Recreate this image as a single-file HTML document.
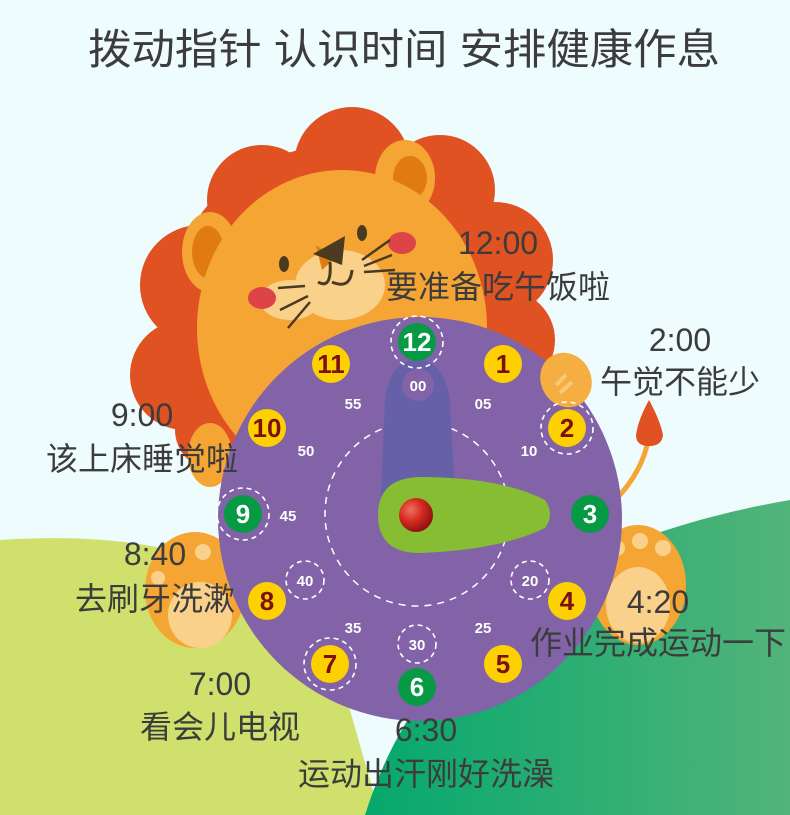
<!DOCTYPE html>
<html><head><meta charset="utf-8"><style>
html,body{margin:0;padding:0;background:#effcfd}
svg{display:block}
text{font-family:"Liberation Sans","Noto Sans CJK SC",sans-serif}
</style></head><body>
<svg width="790" height="815" viewBox="0 0 790 815" xmlns="http://www.w3.org/2000/svg">
<defs>
<linearGradient id="dg" x1="0" y1="0" x2="1" y2="0"><stop offset="0" stop-color="#05a86c"/><stop offset="1" stop-color="#52b47a"/></linearGradient>
<radialGradient id="rb" cx="0.35" cy="0.35" r="0.7"><stop offset="0" stop-color="#f07060"/><stop offset="0.5" stop-color="#d42a1e"/><stop offset="1" stop-color="#8a1010"/></radialGradient>
</defs>
<rect width="790" height="815" fill="#effcfd"/>
<path d="M0 540 C150 530 260 560 330 640 L380 815 L0 815Z" fill="#cfe06c"/>
<path d="M365 815 C420 640 560 540 790 500 L790 815Z" fill="url(#dg)"/>
<text x="404" y="64" font-size="42" fill="#3c3c3c" text-anchor="middle" textLength="632" lengthAdjust="spacingAndGlyphs">拨动指针 认识时间 安排健康作息</text>
<g fill="#e05222">
<circle cx="352" cy="165" r="58"/><circle cx="262" cy="200" r="55"/><circle cx="440" cy="190" r="55"/>
<circle cx="200" cy="285" r="60"/><circle cx="495" cy="260" r="58"/><circle cx="185" cy="375" r="55"/>
<circle cx="505" cy="340" r="50"/><circle cx="215" cy="430" r="40"/><circle cx="340" cy="320" r="175"/>
</g>
<ellipse cx="405" cy="178" rx="30" ry="38" fill="#f5a533"/><ellipse cx="410" cy="178" rx="17" ry="22" fill="#e07b12"/>
<ellipse cx="210" cy="252" rx="28" ry="40" fill="#f5a533"/><ellipse cx="208" cy="252" rx="16" ry="26" fill="#e07b12"/>
<ellipse cx="342" cy="328" rx="145" ry="158" fill="#f5a533"/>
<ellipse cx="340" cy="285" rx="45" ry="35" fill="#fad18b"/>
<ellipse cx="290" cy="300" rx="30" ry="20" fill="#fad18b"/>
<ellipse cx="262" cy="298" rx="14" ry="11" fill="#dd4447"/>
<ellipse cx="402" cy="243" rx="14" ry="11" fill="#dd4447"/>
<ellipse cx="284" cy="264" rx="5" ry="8" fill="#4a3a20"/>
<ellipse cx="362" cy="233" rx="5" ry="8" fill="#4a3a20"/>
<path d="M316 245 L335 258 L322 270Z" fill="#e07b12"/>
<path d="M313 254 L345 236 L342 265Z" fill="#4a3a20"/>
<path d="M330 262 Q332 290 318 282 M332 282 Q350 290 352 270" stroke="#4a3a20" stroke-width="3" fill="none"/>
<g stroke="#4a3a20" stroke-width="2.5"><line x1="278" y1="288" x2="305" y2="286"/><line x1="280" y1="310" x2="308" y2="296"/><line x1="288" y1="328" x2="310" y2="302"/><line x1="362" y1="260" x2="390" y2="240"/><line x1="364" y1="266" x2="392" y2="255"/><line x1="364" y1="272" x2="395" y2="270"/></g>
<path d="M615 500 Q645 470 650 430" stroke="#f5a533" stroke-width="5" fill="none"/>
<path d="M649 400 Q660 420 663 435 Q662 446 649 446 Q636 446 636 435 Q638 420 649 400Z" fill="#e05222"/>
<ellipse cx="210" cy="455" rx="22" ry="32" fill="#f5a533"/>
<ellipse cx="195" cy="590" rx="50" ry="58" fill="#f5a533"/>
<ellipse cx="200" cy="615" rx="32" ry="33" fill="#fad18b"/>
<circle cx="203" cy="552" r="8" fill="#fad18b"/><circle cx="158" cy="578" r="7" fill="#fad18b"/>
<ellipse cx="638" cy="585" rx="48" ry="60" fill="#f5a533"/>
<ellipse cx="638" cy="605" rx="32" ry="38" fill="#fad18b"/>
<circle cx="617" cy="548" r="8" fill="#fad18b"/><circle cx="640" cy="541" r="8" fill="#fad18b"/><circle cx="663" cy="548" r="8" fill="#fad18b"/>
<circle cx="420" cy="519" r="202" fill="#8363a7"/>
<ellipse cx="566" cy="380" rx="25" ry="28" fill="#f5ae42" transform="rotate(-30 566 380)"/>
<path d="M556 385 L566 375 M560 393 L572 382" stroke="#f9c878" stroke-width="4"/>
<circle cx="417" cy="514" r="92" fill="none" stroke="#fff" stroke-width="1.5" stroke-dasharray="7 6"/>
<path d="M380 515 L385 400 Q390 360 417 360 Q444 360 450 400 L456 515Z" fill="#6560a8"/>
<circle cx="418" cy="385" r="16" fill="#8363a7"/>
<path d="M378 515 Q378 478 420 477 Q500 477 545 500 Q555 515 545 528 Q500 550 420 553 Q378 553 378 515Z" fill="#86bd33"/>
<circle cx="416" cy="515" r="17" fill="url(#rb)"/>
<g font-size="15" font-weight="bold" fill="#fff" text-anchor="middle">
<text x="418" y="391">00</text><text x="483" y="409">05</text><text x="529" y="456">10</text><text x="530" y="586">20</text><text x="483" y="633">25</text><text x="417" y="650">30</text><text x="353" y="633">35</text><text x="305" y="586">40</text><text x="288" y="521">45</text><text x="306" y="456">50</text><text x="353" y="409">55</text>
</g>
<g fill="none" stroke="#fff" stroke-width="1.6" stroke-dasharray="5 4">
<circle cx="417" cy="342" r="26"/><circle cx="567" cy="428" r="26"/><circle cx="243" cy="514" r="26"/><circle cx="330" cy="664" r="26"/>
<circle cx="530" cy="580" r="19"/><circle cx="417" cy="644" r="19"/><circle cx="305" cy="580" r="19"/>
</g>
<g font-size="26" font-weight="bold" text-anchor="middle">
<circle cx="417" cy="342" r="19" fill="#069a44"/><text x="417" y="351" fill="#fff">12</text>
<circle cx="503" cy="364" r="19" fill="#fdd000"/><text x="503" y="373" fill="#7a1010">1</text>
<circle cx="567" cy="428" r="19" fill="#fdd000"/><text x="567" y="437" fill="#7a1010">2</text>
<circle cx="590" cy="514" r="19" fill="#069a44"/><text x="590" y="523" fill="#fff">3</text>
<circle cx="567" cy="601" r="19" fill="#fdd000"/><text x="567" y="610" fill="#7a1010">4</text>
<circle cx="503" cy="664" r="19" fill="#fdd000"/><text x="503" y="673" fill="#7a1010">5</text>
<circle cx="417" cy="687" r="19" fill="#069a44"/><text x="417" y="696" fill="#fff">6</text>
<circle cx="330" cy="664" r="19" fill="#fdd000"/><text x="330" y="673" fill="#7a1010">7</text>
<circle cx="267" cy="601" r="19" fill="#fdd000"/><text x="267" y="610" fill="#7a1010">8</text>
<circle cx="243" cy="514" r="19" fill="#069a44"/><text x="243" y="523" fill="#fff">9</text>
<circle cx="267" cy="428" r="19" fill="#fdd000"/><text x="267" y="437" fill="#7a1010">10</text>
<circle cx="331" cy="364" r="19" fill="#fdd000"/><text x="331" y="373" fill="#7a1010">11</text>
</g>
<g font-size="32" fill="#3c3c3c" text-anchor="middle">
<text x="498" y="254">12:00</text><text x="498" y="298">要准备吃午饭啦</text>
<text x="680" y="351">2:00</text><text x="680" y="393">午觉不能少</text>
<text x="142" y="426">9:00</text><text x="142" y="470">该上床睡觉啦</text>
<text x="155" y="565">8:40</text><text x="155" y="610">去刷牙洗漱</text>
<text x="658" y="613">4:20</text><text x="658" y="654">作业完成运动一下</text>
<text x="220" y="695">7:00</text><text x="220" y="738">看会儿电视</text>
<text x="426" y="741">6:30</text><text x="426" y="785">运动出汗刚好洗澡</text>
</g>
</svg>
</body></html>
